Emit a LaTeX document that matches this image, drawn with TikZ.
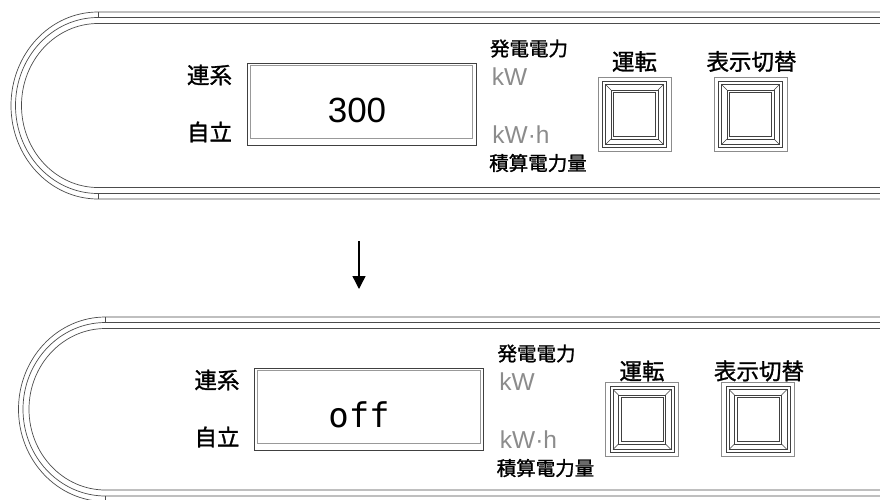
\documentclass[tikz,border=0pt]{standalone}
\usepackage{fontspec}
\usetikzlibrary{arrows.meta}
\newfontfamily\cjk{Noto Sans CJK JP}[FakeBold=1.2]
\newfontfamily\lsans{Liberation Sans}
\newfontfamily\dmono{DejaVu Sans Mono}
\tikzset{
  frameline/.style={draw=black!70, line width=0.7pt},
  dispout/.style={draw=black!75, line width=0.8pt},
  dispin/.style={draw=black!40, line width=0.8pt},
  btnout/.style={draw=black!45, line width=0.7pt},
  btnline/.style={draw=black!75, line width=0.6pt},
  cjkL/.style={font=\cjk\fontsize{22.5}{24}\selectfont, inner sep=0pt},
  cjkS/.style={font=\cjk\fontsize{19.5}{21}\selectfont, inner sep=0pt},
  unit/.style={font=\lsans\fontsize{24.5}{26}\selectfont, text=black!45, inner sep=0pt},
  valnum/.style={font=\lsans\fontsize{35}{36}\selectfont, inner sep=0pt},
  valmono/.style={font=\dmono\fontsize{34}{36}\selectfont, inner sep=0pt},
  arrowline/.style={line width=1.4pt, -{Triangle[width=13pt,length=13pt]}}
}
% button: #1 x, #2 y
\newcommand\btnbox[2]{%
  \draw[btnout] (#1,#2) rectangle (#1+73,#2+74);
  \draw[btnline] (#1+4.5,#2+4) rectangle (#1+68.5,#2+70);
  \draw[btnline] (#1+7.5,#2+7) rectangle (#1+65.5,#2+67);
  \draw[btnline] (#1+13,#2+12.5) rectangle (#1+60,#2+61.5);
  \draw[btnline] (#1+15.5,#2+15) rectangle (#1+57.5,#2+59);
  \draw[btnline] (#1+7.5,#2+7) -- (#1+13,#2+12.5);
  \draw[btnline] (#1+65.5,#2+7) -- (#1+60,#2+12.5);
  \draw[btnline] (#1+7.5,#2+67) -- (#1+13,#2+61.5);
  \draw[btnline] (#1+65.5,#2+67) -- (#1+60,#2+61.5);
}
% frame: #1 x0, #2 T, #3 B
\newcommand\frameband[3]{%
  \pgfmathsetmacro\ryA{(#3-#2)/2}
  \pgfmathsetmacro\ryB{\ryA-5.5}
  \pgfmathsetmacro\ryC{\ryA-11.5}
  \draw[frameline] (880,#2) -- (#1,#2) arc[start angle=270,end angle=90,x radius=87,y radius=\ryA] -- (880,#3);
  \draw[frameline] (880,#2+5.5) -- (#1,#2+5.5) arc[start angle=270,end angle=90,x radius=82.5,y radius=\ryB] -- (880,#3-5.5);
  \draw[frameline] (880,#2+11.5) -- (#1,#2+11.5) arc[start angle=270,end angle=90,x radius=76.5,y radius=\ryC] -- (880,#3-11.5);
  \draw[frameline] (#1,#2) -- (#1,#2+5.5);
  \draw[frameline] (#1,#3-5.5) -- (#1,#3);
}
% panel: #1 suffix, #2 value node style, #3 value x, #4 value text, #5 B, #6 button-label y
\newcommand\panel[6]{%
  \frameband{98}{12}{#5}
  \draw[dispout] (247,63) rectangle (476,145);
  \draw[dispin] (250,65.5) rectangle (472.5,138);
  \node[#2] (val#1) at (#3,110) {#4};
  \node[cjkL] (ren#1) at (209.5,75) {連系};
  \node[cjkL] (ji#1) at (209.5,132) {自立};
  \node[cjkS] (hatsu#1) at (529,48.5) {発電電力};
  \node[unit] (kw#1) at (509.5,77) {kW};
  \node[unit] (kwh#1) at (521,135) {kW·h};
  \node[cjkS] (seki#1) at (538,163) {積算電力量};
  \node[cjkL] (unten#1) at (634.5,#6) {運転};
  \node[cjkL] (hyoji#1) at (751.5,#6) {表示切替};
  \btnbox{598}{77.5}
  \btnbox{714}{77.5}
}
\begin{document}
\begin{tikzpicture}[x=1pt,y=-1pt]
  \useasboundingbox[fill=white] (0,0) rectangle (880,499);
  \panel{A}{valnum}{357}{300}{199}{61.5}
  \begin{scope}[shift={(7.5,305)}]
    \panel{B}{valmono}{351.5}{off}{196.5}{66}
  \end{scope}
  \coordinate (aS) at (359,241);
  \coordinate (aE) at (359,289);
  \draw[arrowline] (aS) -- (aE);
\end{tikzpicture}
\end{document}
